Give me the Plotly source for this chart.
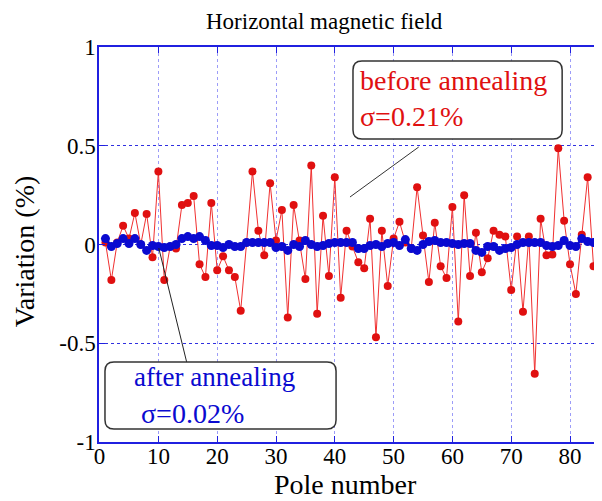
import plotly.graph_objects as go

# ---------------- data ----------------
poles = list(range(1, 86))

before_annealing = [
    0.01, -0.18, 0.01, 0.095, 0.03, 0.16, 0.0, 0.155, -0.065, 0.37,
    -0.18, -0.01, -0.02, 0.20, 0.21, 0.245, -0.10, -0.165, 0.21, -0.13,
    -0.06, -0.13, -0.165, -0.335, 0.01, 0.37, 0.07, -0.055, 0.31, 0.02,
    0.175, -0.37, 0.20, 0.02, -0.175, 0.40, -0.35, 0.145, -0.16, 0.34,
    -0.27, 0.07, -0.01, -0.09, -0.12, 0.13, -0.47, 0.07, -0.21, 0.03,
    0.115, 0.01, -0.02, 0.29, 0.045, -0.19, 0.11, -0.11, -0.17, 0.19,
    -0.39, 0.25, -0.16, 0.06, -0.14, -0.07, 0.07, 0.05, 0.04, -0.23,
    0.04, -0.34, 0.04, -0.655, 0.13, -0.055, -0.05, 0.487, 0.12, -0.10,
    -0.25, 0.05, 0.34, -0.11, 0.02,
]

after_annealing = [
    0.03, -0.01, 0.005, 0.03, 0.005, 0.03, 0.0, -0.03, -0.005, -0.01,
    -0.015, -0.01, 0.0, 0.03, 0.04, 0.03, 0.04, 0.02, -0.005, -0.005,
    -0.015, 0.0, -0.01, -0.01, 0.01, 0.01, 0.01, 0.01, 0.01, -0.015,
    -0.01, -0.03, 0.0, -0.01, 0.02, 0.0, -0.01, -0.005, 0.005, 0.01,
    0.01, 0.01, 0.01, -0.02, -0.02, -0.005, 0.0, -0.01, 0.005, 0.01,
    -0.005, 0.025, -0.02, -0.03, 0.0, 0.015, 0.02, 0.01, 0.01, 0.005,
    0.0, 0.005, 0.005, -0.03, -0.04, -0.01, -0.01, -0.03, -0.02, -0.015,
    0.0, 0.01, 0.01, 0.01, 0.01, -0.005, -0.01, -0.005, 0.02, -0.005,
    -0.01, 0.03, 0.015, 0.01, 0.01,
]

x_tickvals = [0, 10, 20, 30, 40, 50, 60, 70, 80]
x_ticktext = ["0", "10", "20", "30", "40", "50", "60", "70", "80"]
y_tickvals = [-1, -0.5, 0, 0.5, 1]
y_ticktext = ["-1", "-0.5", "0", "0.5", "1"]

title_text = "Horizontal magnetic field"
x_title = "Pole number"
y_title = "Variation (%)"
before_lines = ["before annealing", "σ=0.21%"]
after_lines = ["after annealing", "σ=0.02%"]

# ---------------- layout helpers (reference pixel -> paper) ----------------
W, H = 602, 501          # window size
OFF = 8                  # default page body margin
L, R, T, B = 99, 602, 47, 442   # plot area in window pixels


def px(x):
    return (x - L) / (R - L)


def py(y):
    return (B - y) / (B - T)


def rounded_box(x0, y0, x1, y1, r=9):
    pts = [
        ("M", x0 + r, y0), ("L", x1 - r, y0), ("Q", x1, y0, x1, y0 + r),
        ("L", x1, y1 - r), ("Q", x1, y1, x1 - r, y1), ("L", x0 + r, y1),
        ("Q", x0, y1, x0, y1 - r), ("L", x0, y0 + r), ("Q", x0, y0, x0 + r, y0),
    ]
    s = ""
    for p in pts:
        coords = p[1:]
        parts = [f"{px(coords[i]):.5f},{py(coords[i+1]):.5f}"
                 for i in range(0, len(coords), 2)]
        s += p[0] + " " + " ".join(parts) + " "
    return s + "Z"


SERIF = "Liberation Serif, Times New Roman, serif"
RED = "#e01010"
BLUE = "#0a0ad0"

fig = go.Figure()
fig.add_trace(go.Scatter(
    x=poles, y=before_annealing, mode="lines+markers",
    line=dict(color="#f03030", width=1),
    marker=dict(color=RED, size=8, symbol="circle"),
    showlegend=False,
))
fig.add_trace(go.Scatter(
    x=poles, y=after_annealing, mode="lines+markers",
    line=dict(color=BLUE, width=2.5),
    marker=dict(color=BLUE, size=9, symbol="circle"),
    showlegend=False,
))

shapes = [
    dict(type="line", xref="paper", yref="paper",
         x0=px(420), y0=py(147), x1=px(351), y1=py(197),
         line=dict(color="#333333", width=1)),
    dict(type="line", xref="paper", yref="paper",
         x0=px(159), y0=py(248), x1=px(187), y1=py(362),
         line=dict(color="#222222", width=1)),
    dict(type="path", xref="paper", yref="paper",
         path=rounded_box(354, 61, 564, 139),
         fillcolor="white", line=dict(color="#333333", width=1.5), layer="above"),
    dict(type="path", xref="paper", yref="paper",
         path=rounded_box(105, 362, 337, 429),
         fillcolor="white", line=dict(color="#333333", width=1.5), layer="above"),
]

annotations = [
    dict(text=title_text, xref="paper", yref="paper", x=px(325), y=py(21),
         xanchor="center", yanchor="middle", showarrow=False,
         font=dict(family=SERIF, size=23, color="black")),
    dict(text=x_title, xref="paper", yref="paper", x=px(346), y=py(485),
         xanchor="center", yanchor="middle", showarrow=False, borderpad=0,
         font=dict(family=SERIF, size=28, color="black")),
    dict(text=y_title, xref="paper", yref="paper", x=px(24), y=py(251),
         xanchor="center", yanchor="middle", showarrow=False, textangle=-90,
         borderpad=0,
         font=dict(family=SERIF, size=28, color="black")),
    dict(text=before_lines[0], xref="paper", yref="paper", x=px(359), y=py(80),
         xanchor="left", yanchor="middle", showarrow=False,
         font=dict(family=SERIF, size=28, color=RED)),
    dict(text=before_lines[1], xref="paper", yref="paper", x=px(359), y=py(117),
         xanchor="left", yanchor="middle", showarrow=False,
         font=dict(family=SERIF, size=28, color=RED)),
    dict(text=after_lines[0], xref="paper", yref="paper", x=px(132), y=py(377),
         xanchor="left", yanchor="middle", showarrow=False,
         font=dict(family=SERIF, size=27, color=BLUE)),
    dict(text=after_lines[1], xref="paper", yref="paper", x=px(139), y=py(413),
         xanchor="left", yanchor="middle", showarrow=False,
         font=dict(family=SERIF, size=28, color=BLUE)),
]

fig.update_layout(
    width=W - OFF, height=H - OFF,
    margin=dict(l=L - OFF, r=W - R, t=T - OFF, b=H - B, pad=0),
    paper_bgcolor="white", plot_bgcolor="white",
    shapes=shapes, annotations=annotations,
    xaxis=dict(
        range=[-0.1, 85.1], tickvals=x_tickvals, ticktext=x_ticktext,
        showline=True, linecolor="#2020e0", linewidth=1.5, mirror="ticks",
        ticks="inside", ticklen=6, tickcolor="#2020e0", tickwidth=1,
        showgrid=True, gridcolor="#9c9cf8", gridwidth=1.2, griddash="dot",
        zeroline=False, ticklabelstandoff=-7,
        tickfont=dict(family=SERIF, size=23, color="black"),
    ),
    yaxis=dict(
        range=[-1, 1], tickvals=y_tickvals, ticktext=y_ticktext,
        showline=True, linecolor="#2020e0", linewidth=1.5, mirror="ticks",
        ticks="inside", ticklen=6, tickcolor="#2020e0", tickwidth=1,
        showgrid=True, gridcolor="#3030e0", gridwidth=1, griddash="dot",
        zeroline=False, ticklabelstandoff=-3,
        tickfont=dict(family=SERIF, size=23, color="black"),
    ),
)

fig.write_html("out.html")
